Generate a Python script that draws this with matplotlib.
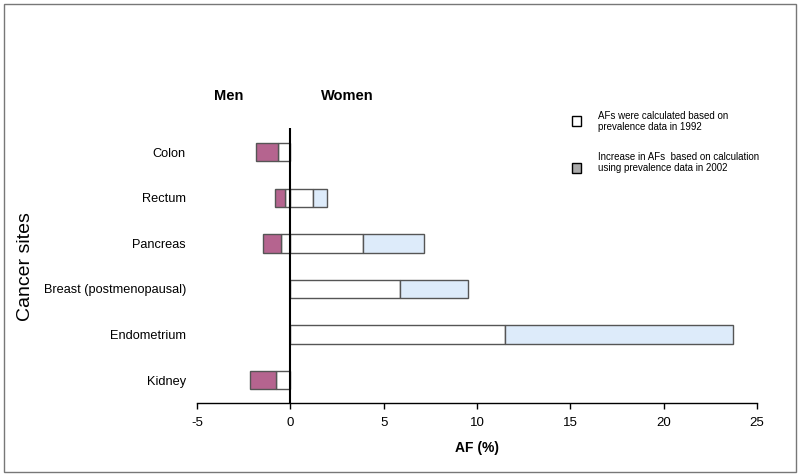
import matplotlib.pyplot as plt
from matplotlib.patches import Rectangle

plt.rcParams['font.family'] = ['Liberation Sans', 'DejaVu Sans']

sites = ["Colon", "Rectum", "Pancreas", "Breast (postmenopausal)", "Endometrium", "Kidney"]
# AF (%) based on 1992 prevalence, and the increase using 2002 prevalence
men_1992 = [0.64, 0.27, 0.50, 0.0, 0.0, 0.77]
men_increase = [1.22, 0.57, 0.96, 0.0, 0.0, 1.39]
women_1992 = [0.0, 1.19, 3.88, 5.90, 11.48, 0.0]
women_increase = [0.0, 0.77, 3.29, 3.60, 12.22, 0.0]
xticks = [-5, 0, 5, 10, 15, 20, 25]

pink = "#B5648F"
blue = "#DDEBFA"
edge = "#555555"

fig = plt.figure(figsize=(8, 4.75), dpi=100)
ax = fig.add_axes([0.24625, 0.1516, 0.70, 0.5789])

y = list(range(len(sites)))
h = 0.4
bkw = dict(height=h, edgecolor=edge, linewidth=1.0)

# men (negative side)
ax.barh(y, [-v for v in men_1992], color="white", **bkw)
ax.barh(y, [-v for v in men_increase], left=[-v for v in men_1992], color=pink, **bkw)
# women
ax.barh(y, women_1992, color="white", **bkw)
ax.barh(y, women_increase, left=women_1992, color=blue, **bkw)

# hide zero-length bars
for p in ax.patches:
    if p.get_width() == 0:
        p.set_visible(False)

ax.axvline(0, color="black", linewidth=1.5)

ax.set_xlim(-5, 25)
ax.set_ylim(5.5, -0.53)
ax.set_yticks(y)
ax.set_yticklabels(sites, fontsize=9.2)
ax.tick_params(axis="y", length=0, pad=8)
ax.set_xticks(xticks)
ax.set_xticklabels([str(t) for t in xticks], fontsize=9.5)
ax.tick_params(axis="x", direction="out", length=4, width=1, pad=6)

for s in ["top", "right", "left"]:
    ax.spines[s].set_visible(False)
ax.spines["bottom"].set_linewidth(1.0)

ax.set_xlabel("AF (%)", fontsize=10, fontweight="bold", labelpad=9)
fig.text(26 / 800, 1 - 267 / 475, "Cancer sites", fontsize=14, rotation=90, ha="center", va="center")

fig.text(229 / 800, 1 - 96 / 475, "Men", fontsize=10.5, fontweight="bold", ha="center", va="center")
fig.text(347 / 800, 1 - 96 / 475, "Women", fontsize=10.5, fontweight="bold", ha="center", va="center")

# legend
legend_items = [(121, 121.5, "white", "AFs were calculated based on\nprevalence data in 1992"),
                (168, 162.5, "#AAAAAA", "Increase in AFs  based on calculation\nusing prevalence data in 2002")]
for (ys, yt, fc, txt) in legend_items:
    fig.patches.append(Rectangle((572 / 800, 1 - (ys + 5) / 475), 9 / 800, 10 / 475,
                                 transform=fig.transFigure, facecolor=fc, edgecolor="black", linewidth=1.0))
    fig.text(598 / 800, 1 - yt / 475, txt, fontsize=7, ha="left", va="center", linespacing=1.2)

# figure frame
fig.patches.append(Rectangle((4 / 800, 3 / 475), 792 / 800, 468 / 475, transform=fig.transFigure,
                             facecolor="none", edgecolor="#777777", linewidth=1.0))

fig.savefig("out.png", dpi=100)
